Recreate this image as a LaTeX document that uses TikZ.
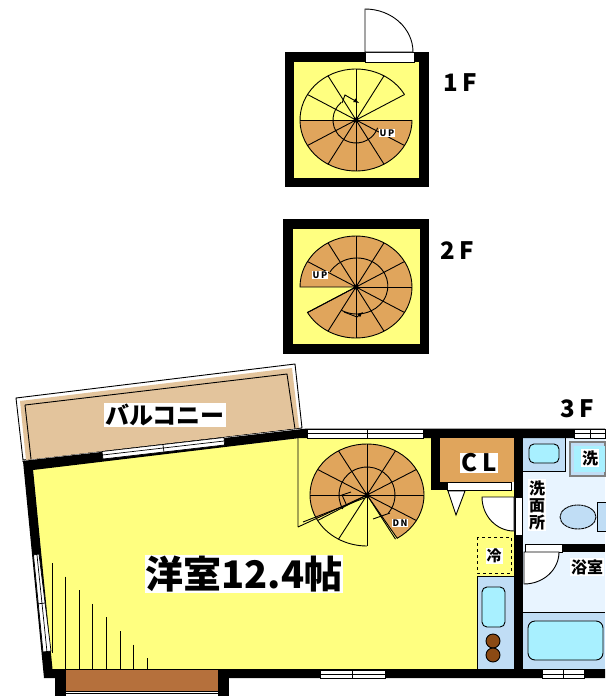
\documentclass[tikz,border=0pt]{standalone}
\usepackage{fontspec}
\newfontfamily\jp{Noto Sans CJK JP}
\definecolor{roomyellow}{HTML}{FFFF80}
\definecolor{stairbrown}{HTML}{E0A55C}
\definecolor{balconytan}{HTML}{E3C49C}
\definecolor{floorbrown}{HTML}{B5703C}
\definecolor{wetblue}{HTML}{C0DDF5}
\definecolor{palecyan}{HTML}{A8F0FF}
\definecolor{paleblue}{HTML}{E8F4FF}
\definecolor{burner}{HTML}{8B4A14}
\tikzset{
	wall/.style={fill=black,draw=none},
	pane/.style={fill=white,draw=black,line width=0.7pt},
	fixture/.style={fill=palecyan,draw=black,line width=0.9pt,rounded corners=5pt},
	tag/.style={fill=white,inner sep=1pt,font=\jp\bfseries},
	thinline/.style={line width=0.9pt}
}
\begin{document}
\begin{tikzpicture}[x=1pt,y=-1pt,thinline]
\useasboundingbox (0,0) rectangle (605,696);
% 1F
\fill[wall] (285,52) rectangle (429,187);
\fill[roomyellow] (294,62) rectangle (419,178);
\draw[pane] (365,52) rectangle (414,62);
\draw[fill=white] (365,52) -- (365,9) arc[start angle=-90,end angle=0,x radius=48,y radius=43] -- cycle;
\begin{scope}[shift={(356,120)},yscale=-1]
	\fill[stairbrown] (0,0) -- (180:56 and 51) arc[start angle=180,end angle=360,x radius=56,y radius=51] -- cycle;
	\draw (30:56 and 51) arc[start angle=30,end angle=360,x radius=56,y radius=51];
	\foreach \a in {0,30,...,330}{
		\draw (0,0) -- (\a:56 and 51);
	}
	\draw (130:23) arc[start angle=130,end angle=340,radius=23];
	\draw[->,>=latex] (-14,17) -- (-11,25) -- (3,17);
	\fill (0,0) circle[radius=2.5];
	\node[tag,font=\jp\bfseries\small] (upfirst) at (31,-13) {U\,P};
\end{scope}
\node[font=\jp\bfseries\fontsize{24}{24}\selectfont] (labelfirst) at (460,83) {1\,F};
% 2F
\fill[wall] (283,219) rectangle (429,354);
\fill[roomyellow] (292.5,229) rectangle (419.5,344);
\begin{scope}[shift={(356,287)},yscale=-1]
	\fill[stairbrown] (0,0) -- (180:56 and 51) arc[start angle=180,end angle=-150,x radius=56,y radius=51] -- cycle;
	\draw (0,0) -- (180:56 and 51) arc[start angle=180,end angle=-150,x radius=56,y radius=51] -- cycle;
	\foreach \a in {0,30,...,150,210,240,...,330}{
		\draw (0,0) -- (\a:56 and 51);
	}
	\draw (150:30) arc[start angle=150,end angle=-120,x radius=31,y radius=28];
	\draw[->,>=latex] (-12,-25) -- (1,-30) -- (7,-25);
	\fill (0,0) circle[radius=2.5];
	\node[tag,font=\jp\bfseries\small] (upsecond) at (-36,12) {U\,P};
\end{scope}
\node[font=\jp\bfseries\fontsize{24}{24}\selectfont] (labelsecond) at (457,251) {2\,F};
% balcony
\draw[fill=white] (16,398) -- (295,364) -- (302,428) -- (23,460) -- cycle;
\fill[balconytan] (20,401) -- (292,368) -- (299,428) -- (26,460) -- cycle;
\draw (25,405) -- (287,374) -- (295,429);
\draw (25,405) -- (31,459);
\node[tag,font=\jp\bfseries\fontsize{24}{24}\selectfont] (balcony) at (165,415) {バルコニー};
% floors
\fill[roomyellow] (33,469) -- (300,438) -- (431,438) -- (431,490) -- (514,490) -- (514,670) -- (52,670) -- cycle;
\fill[paleblue] (523,438) rectangle (605,612);
\fill[wetblue] (523,438) rectangle (565,471);
\draw (523,471) -- (565,471) -- (565,438);
\fill[wetblue] (523,612) rectangle (605,669);
\draw (523,612) -- (605,612);
\fill[wetblue] (477,576) rectangle (514,669);
\draw (477,576) -- (477,669);
\draw (477,576) -- (514,576);
% walls
\fill[wall] (22,461) -- (307,428.5) -- (605,428.5) -- (605,438) -- (300,438) -- (33,470) -- cycle;
\fill[wall] (23,461) -- (44,678) -- (605,678) -- (605,669) -- (52.5,669) -- (33,469) -- cycle;
\fill[wall] (514,430) rectangle (523,678);
\fill[wall] (431,438) rectangle (440,490);
\fill[wall] (440,482) rectangle (447,490);
\fill[wall] (562,544) rectangle (605,552);
\fill[wall] (55,670) rectangle (229,696);
\fill[floorbrown] (66,670) rectangle (218,691);
\fill[white] (66,691.5) rectangle (218,696);
\draw[line width=0.7pt] (66,693.5) -- (218,693.5);
% windows
\draw[pane] (102,451.5) -- (224,437.5) -- (224.5,445) -- (103,459) -- cycle;
\draw[line width=0.7pt] (102.5,455) -- (224,441) (163,445) -- (164,452);
\draw[pane] (307,429) rectangle (423,438);
\draw[line width=0.7pt] (307,433.5) -- (423,433.5) (367,429) -- (367,438);
\draw[pane] (574,429) rectangle (605,438);
\draw[line width=0.7pt] (574,433.5) -- (605,433.5) (590,429) -- (590,438);
\draw[pane] (33.5,555) -- (39,554) -- (51,651) -- (43,652) -- cycle;
\draw[line width=0.7pt] (37,555) -- (47,652) (37,604) -- (45,603);
\draw[pane] (320,670) rectangle (385,678);
\draw[line width=0.7pt] (320,674) -- (385,674) (352,670) -- (352,678);
\draw[pane] (542,669.5) rectangle (584,678);
\draw[line width=0.7pt] (542,674) -- (584,674) (563,670) -- (563,678);
% closet
\fill[stairbrown] (440,438) rectangle (514,482);
\draw[pane] (447,482) rectangle (511,490);
\draw[fill=white] (448,491) -- (465,491) -- (456,515) -- cycle;
\node[tag,font=\jp\bfseries\fontsize{24}{24}\selectfont] (closet) at (479,463) {C\ L};
% doors
\draw[pane] (515,497) rectangle (522,535);
\draw[fill=white] (514,497) -- (482,497) arc[start angle=180,end angle=90,x radius=32,y radius=34] -- cycle;
\draw[pane] (525,544) rectangle (562,552);
\draw[fill=white] (524,552) -- (524,584) arc[start angle=90,end angle=0,x radius=35,y radius=32] -- cycle;
% stairs 3F
\begin{scope}[shift={(367,495)},yscale=-1]
	\fill[stairbrown] (0,0) -- (208:57 and 51) arc[start angle=208,end angle=-58,x radius=57,y radius=51] -- cycle;
	\draw (208:57 and 51) arc[start angle=208,end angle=-58,x radius=57,y radius=51] -- (0,0);
	\draw (-90:57 and 51) arc[start angle=-90,end angle=-152,x radius=57,y radius=51];
	\foreach \a in {0,30,...,330}{
		\draw (0,0) -- (\a:57 and 51);
	}
	\draw (-69,-32) -- (0,0) (-69,-32) -- (-69,57);
	\draw (-64,-27) -- (0,-2);
	\draw (210:28) arc[start angle=210,end angle=-40,radius=28];
	\draw (6,-24) -- (23,-18);
	\draw (-20,-11) -- (-25,0) -- (-16,3);
	\fill (0,0) circle[radius=2.5];
	\node[tag,font=\jp\bfseries\small] (downthird) at (33,-28) {D\,N};
\end{scope}
\node[font=\jp\bfseries\fontsize{24}{24}\selectfont] (labelthird) at (577,409) {3\,F};
% kitchen
\draw[dashed,line width=1pt] (477,537) rectangle (511,573);
\node[tag,font=\jp\bfseries\fontsize{15}{15}\selectfont] (fridge) at (494,556) {冷};
\draw[fixture] (482,587) rectangle (505,627);
\foreach \y in {641,655}{
	\draw[fill=burner] (493,\y) circle[radius=7];
}
% wash room
\draw[fixture] (529,444) rectangle (559,463);
\draw[fill=wetblue,draw=gray,line width=1.5pt] (570,442) rectangle (605,476);
\fill[palecyan] (574,446) rectangle (605,472);
\node[tag,font=\jp\bfseries\fontsize{16}{16}\selectfont] (washer) at (590,458) {洗};
\node[tag,font=\jp\bfseries\fontsize{16}{17}\selectfont,align=center] (washroom) at (537,505) {洗\\面\\所};
\draw[fill=wetblue,dash pattern=on 3pt off 0.5pt] (578,517) ellipse[x radius=18,y radius=12];
\draw[fill=wetblue] (597,502) rectangle (606,531);
\node[tag,font=\jp\bfseries\fontsize{16}{16}\selectfont] (bathroom) at (587,567) {浴室};
\draw[fixture,rounded corners=7pt] (528,621) rectangle (603,660);
% stair ticks
\draw (52,563) -- (52,653);
\foreach \i in {1,...,7}{
	\draw ({52+13.6*\i},{563+13.6*\i}) -- ({52+13.6*\i},669);
}
\draw (52,669) -- (218,669);
% main room
\node[tag,font=\jp\bfseries\fontsize{38}{38}\selectfont] (mainroom) at (244,574) {洋室12.4帖};
\end{tikzpicture}
\end{document}
